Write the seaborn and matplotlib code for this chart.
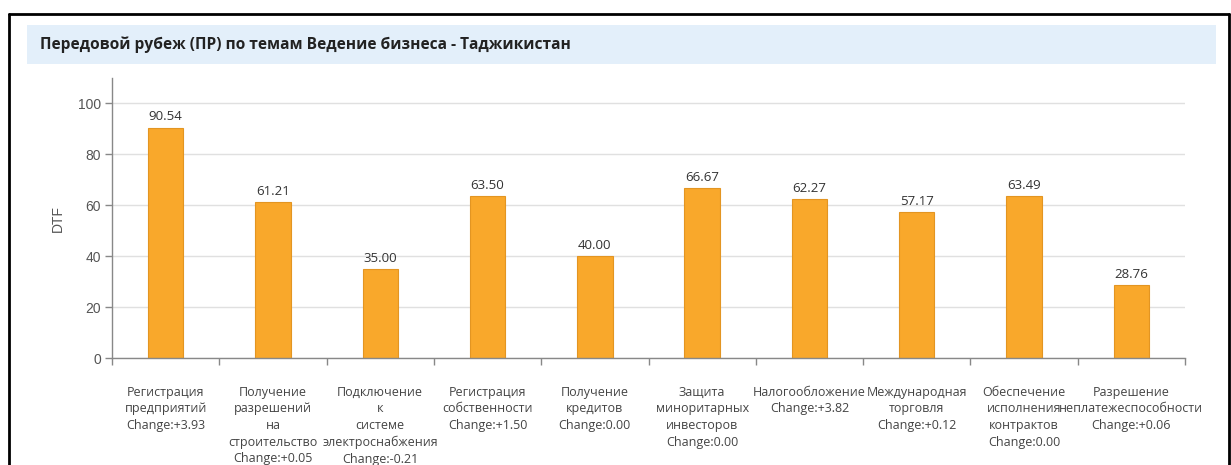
"""Bar chart of DTF frontier by Doing Business topic."""
import pandas as pd
import matplotlib.pyplot as plt
from matplotlib.lines import Line2D
from matplotlib.patches import Rectangle
from matplotlib.ticker import FixedLocator
import seaborn as sns

TITLE = "Передовой рубеж (ПР) по темам Ведение бизнеса - Таджикистан"

topics = [
    "Регистрация\nпредприятий",
    "Получение\nразрешений\nна\nстроительство",
    "Подключение\nк\nсистеме\nэлектроснабжения",
    "Регистрация\nсобственности",
    "Получение\nкредитов",
    "Защита\nминоритарных\nинвесторов",
    "Налогообложение",
    "Международная\nторговля",
    "Обеспечение\nисполнения\nконтрактов",
    "Разрешение\nнеплатежеспособности",
]
dtf = [90.54, 61.21, 35.00, 63.50, 40.00, 66.67, 62.27, 57.17, 63.49, 28.76]
changes = ["+3.93", "+0.05", "-0.21", "+1.50", "0.00", "0.00", "+3.82", "+0.12", "0.00", "+0.06"]
y_ticks = [0, 20, 40, 60, 80, 100]

labels = [f"{t}\nChange:{c}" for t, c in zip(topics, changes)]
data = pd.DataFrame({"topic": labels, "dtf": dtf})

sns.set_style("white")
plt.rcParams["font.family"] = ["Open Sans", "DejaVu Sans"]

fig = plt.figure(figsize=(12.31, 4.65), dpi=100)
ax = fig.add_axes([112 / 1231, 1 - 358 / 465, (1185 - 112) / 1231, (358 - 78) / 465])

sns.barplot(data=data, x="topic", y="dtf", color="#F9A82B", width=0.33,
            saturation=1, edgecolor="#E39522", linewidth=0.8, ax=ax)

ax.bar_label(ax.containers[0], fmt="%.2f", padding=3, fontsize=9.5, color="#333333")

ax.set_ylim(0, 110)
ax.set_xlim(-0.5, len(labels) - 0.5)
ax.set_yticks(y_ticks)
ax.yaxis.grid(True, color="#E0E0E0", linewidth=1)
ax.set_axisbelow(True)

# tick marks sit between categories
ax.xaxis.set_minor_locator(FixedLocator([i - 0.5 for i in range(len(labels) + 1)]))
ax.tick_params(axis="x", which="major", bottom=True, length=0, pad=20,
               labelsize=9, colors="#444444")
ax.tick_params(axis="x", which="minor", bottom=True, length=5, color="#888888", width=1)
ax.tick_params(axis="y", left=True, length=5, color="#888888", width=1, pad=3,
               labelsize=10, labelcolor="#555555", labelfontfamily="Liberation Sans")
for lbl in ax.get_xticklabels():
    lbl.set_linespacing(1.36)
    lbl.set_verticalalignment("top")

ax.set_xlabel("")
ax.set_ylabel("DTF", fontsize=10, color="#555555", family="Liberation Sans", labelpad=9)

for side in ["top", "right"]:
    ax.spines[side].set_visible(False)
for side in ["left", "bottom"]:
    ax.spines[side].set_color("#888888")
    ax.spines[side].set_linewidth(1)

# title band
fig.add_artist(Rectangle((27 / 1231, 1 - 64 / 465), (1216 - 27) / 1231, 39 / 465,
                         transform=fig.transFigure, facecolor="#E3EFFA", edgecolor="none"))
fig.text(40 / 1231, 1 - 45 / 465, TITLE, fontsize=11.2, fontweight="bold",
         color="#222222", va="center", ha="left")

# outer frame
frame = dict(transform=fig.transFigure, color="black", linewidth=2)
fig.add_artist(Line2D([9 / 1231, 1229 / 1231], [1 - 14 / 465, 1 - 14 / 465], **frame))
fig.add_artist(Line2D([9 / 1231, 9 / 1231], [0, 1 - 14 / 465], **frame))
fig.add_artist(Line2D([1229 / 1231, 1229 / 1231], [0, 1 - 14 / 465], **frame))

fig.savefig("out.png", dpi=100)
